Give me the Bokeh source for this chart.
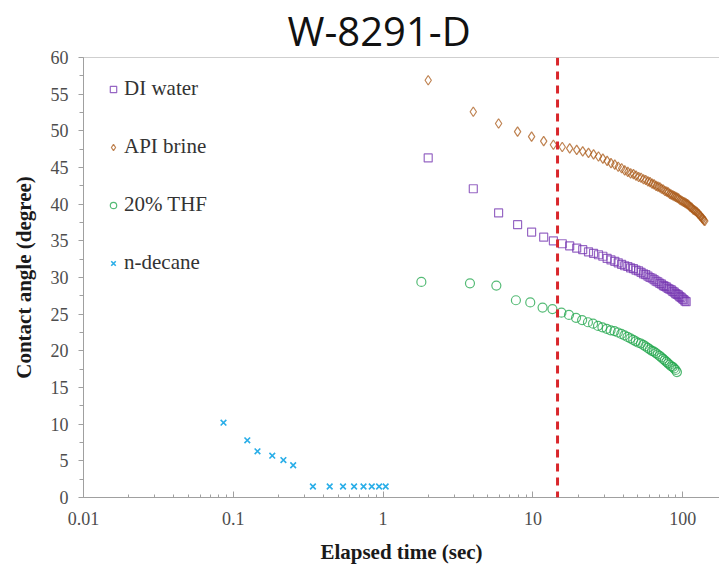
from bokeh.plotting import figure
from bokeh.models import Range1d, FixedTicker, SingleIntervalTicker, CustomJSTickFormatter, Span
from bokeh.embed import file_html
from bokeh.resources import INLINE

# ---------------- data ----------------
title_text = "W-8291-D"
x_label = "Elapsed time (sec)"
y_label = "Contact angle (degree)"
x_tick_values = [0.01, 0.1, 1, 10, 100]
y_tick_interval = 5
marker_time = 14.6  # red dashed reference line (s)

series_names = ["DI water", "API brine", "20% THF", "n-decane"]

# sampling times for DI water / API brine (s)
t_sampled = [2.0, 4.0, 5.9, 7.9, 9.8, 11.8, 13.7, 15.7, 17.6, 19.6, 21.5, 23.5,
             25.4, 27.4, 29.3, 31.3, 33.2, 35.2, 37.1, 39.1, 41.0, 43.0, 44.9,
             46.9, 48.8, 50.8, 52.7, 54.7, 56.6, 58.6, 60.5, 62.5, 64.4, 66.4,
             68.3, 70.3, 72.2, 74.2, 76.1, 78.1, 80.0, 82.0, 83.9, 85.9, 87.8,
             89.8, 91.7, 93.7, 95.6, 97.6, 99.5, 101.5, 103.4, 105.4, 107.3,
             109.3, 111.2, 113.2, 115.1, 117.1, 119.0, 121.0, 122.9, 124.9,
             126.8, 128.8, 130.7, 132.7, 134.6, 136.6, 138.5, 140.5]

di_water = [46.3, 42.1, 38.8, 37.2, 36.2, 35.5, 35.0, 34.6, 34.3, 34.0, 33.8,
            33.5, 33.3, 33.1, 32.9, 32.6, 32.4, 32.2, 32.0, 31.8, 31.6, 31.5,
            31.3, 31.2, 31.0, 30.9, 30.7, 30.5, 30.4, 30.2, 30.0, 29.9, 29.7,
            29.5, 29.4, 29.2, 29.1, 28.9, 28.8, 28.7, 28.5, 28.4, 28.3, 28.1,
            28.0, 27.8, 27.7, 27.6, 27.4, 27.3, 27.1, 27.0, 26.8, 26.7]
t_di = t_sampled[:len(di_water)]

api_brine = [56.9, 52.6, 51.0, 49.9, 49.2, 48.6, 48.1, 47.8, 47.6, 47.4, 47.2,
             47.0, 46.8, 46.5, 46.2, 45.9, 45.6, 45.4, 45.1, 44.9, 44.6, 44.4,
             44.2, 44.1, 43.9, 43.7, 43.6, 43.4, 43.3, 43.1, 43.0, 42.8, 42.7,
             42.5, 42.4, 42.3, 42.1, 42.0, 41.8, 41.7, 41.6, 41.4, 41.3, 41.2,
             41.1, 41.0, 40.9, 40.8, 40.6, 40.5, 40.4, 40.3, 40.2, 40.1, 40.0,
             39.9, 39.7, 39.6, 39.5, 39.3, 39.2, 39.1, 39.0, 38.9, 38.7, 38.6,
             38.4, 38.3, 38.1, 38.0, 37.8, 37.7]
t_api = t_sampled[:len(api_brine)]

t_thf = [1.8, 3.8, 5.7, 7.7, 9.6, 11.6, 13.5, 15.5, 17.4, 19.4, 21.3, 23.3,
         25.2, 27.2, 29.1, 31.1, 33.0, 35.0, 36.9, 38.9, 40.8, 42.8, 44.7,
         46.7, 48.6, 50.6, 52.5, 54.5, 56.4, 58.4, 60.3, 62.3, 64.2, 66.2,
         68.1, 70.1, 72.0, 74.0, 75.9, 77.9, 79.8, 81.8, 83.7, 85.7, 87.6,
         89.6, 91.5]
thf_20 = [29.4, 29.2, 28.9, 26.9, 26.6, 25.9, 25.7, 25.2, 24.9, 24.5, 24.2,
          23.9, 23.7, 23.4, 23.2, 23.0, 22.8, 22.7, 22.5, 22.3, 22.1, 21.9,
          21.7, 21.5, 21.3, 21.1, 21.0, 20.8, 20.6, 20.4, 20.2, 20.0, 19.9,
          19.7, 19.5, 19.3, 19.1, 18.9, 18.7, 18.5, 18.3, 18.1, 17.9, 17.8,
          17.6, 17.4, 17.1]

t_decane = [0.086, 0.124, 0.145, 0.182, 0.216, 0.251, 0.34, 0.44, 0.54, 0.64,
            0.74, 0.84, 0.94, 1.04]
n_decane = [10.2, 7.8, 6.3, 5.7, 5.1, 4.4, 1.5, 1.5, 1.5, 1.5, 1.5, 1.5, 1.5, 1.5]

# ---------------- styles ----------------
C_DI = "#7434B0"
C_API = "#A95A18"
C_THF = "#1CA448"
C_DEC = "#2AAEE8"
AXIS_GRAY = "#A0A0A0"
SERIF = "Liberation Serif"

p = figure(width=719, height=569, x_axis_type="log",
           x_range=Range1d(0.01, 176), y_range=Range1d(0, 60),
           output_backend="svg", toolbar_location=None,
           min_border_left=83, min_border_right=0,
           min_border_top=55, min_border_bottom=72)
p.outline_line_color = None
p.grid.visible = False
p.background_fill_color = "white"
p.border_fill_color = "white"

# title
p.title.text = title_text
p.title.text_font = "Open Sans"
p.title.text_font_size = "40px"
p.title.text_font_style = "normal"
p.title.text_color = "#111111"
p.title.align = "left"
p.title.offset = 204
p.title.standoff = 0
p.title.text_line_height = 0.5

# markers
p.scatter(t_di, di_water, marker="square", size=8, fill_color=None,
          line_color=C_DI, line_alpha=0.75, line_width=1.2, legend_label=series_names[0])
p.scatter(t_api, api_brine, marker="diamond", size=9.5, fill_color=None,
          line_color=C_API, line_alpha=0.75, line_width=1.2, legend_label=series_names[1])
p.scatter(t_thf, thf_20, marker="circle", size=9, fill_color=None,
          line_color=C_THF, line_alpha=0.75, line_width=1.2, legend_label=series_names[2])
p.scatter(t_decane, n_decane, marker="x", size=8,
          line_color=C_DEC, line_width=1.6, legend_label=series_names[3])

# reference line and top frame line
p.add_layout(Span(location=marker_time, dimension="height", line_color="#D9262B",
                  line_width=3, line_dash="8 6"))
p.add_layout(Span(location=60, dimension="width", line_color=AXIS_GRAY, line_width=1))

# x axis
minor = [m * d for d in [0.01, 0.1, 1, 10, 100] for m in range(2, 10)]
xa = p.xaxis[0]
xa.ticker = FixedTicker(ticks=x_tick_values, minor_ticks=minor)
xa.formatter = CustomJSTickFormatter(code="return String(Number(tick.toPrecision(6)));")
xa.axis_line_color = AXIS_GRAY
xa.major_tick_line_color = AXIS_GRAY
xa.minor_tick_line_color = AXIS_GRAY
xa.major_tick_in = 6
xa.major_tick_out = 0
xa.minor_tick_in = 3
xa.minor_tick_out = 0
xa.major_label_text_font = SERIF
xa.major_label_text_font_size = "18px"
xa.major_label_text_color = "#4D4D4D"
xa.major_label_standoff = 14
xa.axis_label = x_label
xa.axis_label_text_font = SERIF
xa.axis_label_text_font_size = "21px"
xa.axis_label_text_font_style = "bold"
xa.axis_label_text_color = "#1A1A1A"
xa.axis_label_standoff = 12

# y axis
ya = p.yaxis[0]
ya.ticker = SingleIntervalTicker(interval=y_tick_interval, num_minor_ticks=2)
ya.axis_line_color = AXIS_GRAY
ya.major_tick_line_color = AXIS_GRAY
ya.minor_tick_line_color = AXIS_GRAY
ya.major_tick_in = 0
ya.major_tick_out = 5
ya.minor_tick_in = 0
ya.minor_tick_out = 4
ya.major_label_text_font = SERIF
ya.major_label_text_font_size = "18px"
ya.major_label_text_color = "#4D4D4D"
ya.major_label_standoff = 10
ya.axis_label = y_label
ya.axis_label_text_font = SERIF
ya.axis_label_text_font_size = "21px"
ya.axis_label_text_font_style = "bold"
ya.axis_label_text_color = "#1A1A1A"
ya.axis_label_standoff = 12

# legend
lg = p.legend[0]
lg.location = (22, 222)
lg.border_line_color = None
lg.background_fill_alpha = 0
lg.padding = 0
lg.margin = 0
lg.glyph_width = 16
lg.glyph_height = 24
lg.label_height = 24
lg.spacing = 33
lg.label_standoff = 3
lg.label_text_font = SERIF
lg.label_text_font_size = "21px"
lg.label_text_color = "#333333"

open("out.html", "w").write(file_html(p, INLINE))
